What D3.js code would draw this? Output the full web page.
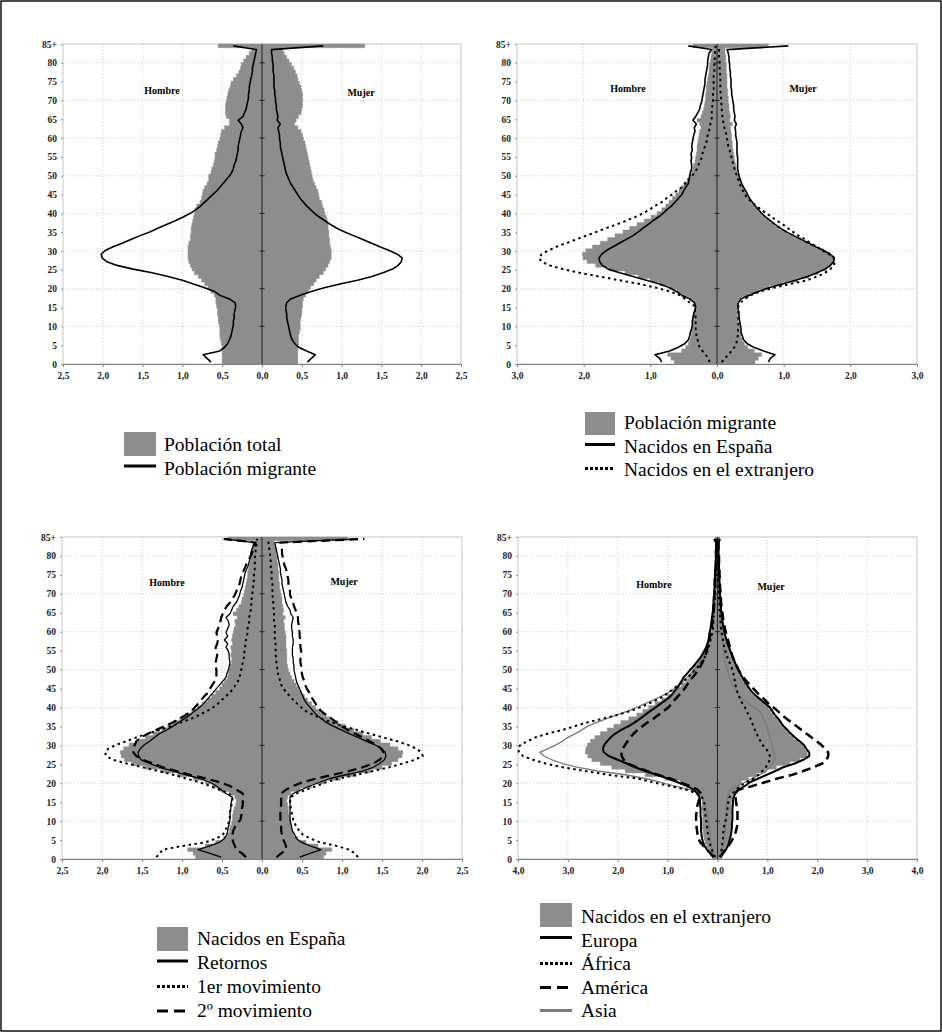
<!DOCTYPE html>
<html><head><meta charset="utf-8">
<script src="https://cdn.jsdelivr.net/npm/d3@7"></script>
<style>
body{margin:0;background:#fff;}
svg{display:block;}
svg text{font-family:"Liberation Serif","Times New Roman",Times,"DejaVu Serif",serif;}
</style>
</head><body>
<svg id="chart" width="942" height="1032"></svg>
<script>
// ---------- categories / ticks ----------
const ages = d3.range(86); // single years 0..84 and 85+
const ageTickValues = [0,5,10,15,20,25,30,35,40,45,50,55,60,65,70,75,80,85];
const ageTickLabels = ["0","5","10","15","20","25","30","35","40","45","50","55","60","65","70","75","80","85+"];
const gridAges = [10,20,30,40,50,60,70,80];
const ticks25 = [-2.5,-2,-1.5,-1,-0.5,0,0.5,1,1.5,2,2.5];
const ticks3 = [-3,-2,-1,0,1,2,3];
const ticks4 = [-4,-3,-2,-1,0,1,2,3,4];

// ---------- series (% by single year of age, 0..84, 85+) ----------
const totalM = [0.50,0.50,0.50,0.50,0.50,0.51,0.52,0.53,0.53,0.53,
 0.54,0.55,0.55,0.56,0.56,0.57,0.58,0.58,0.60,0.64,
 0.68,0.72,0.76,0.80,0.85,0.88,0.90,0.92,0.93,0.93,
 0.93,0.93,0.92,0.90,0.90,0.89,0.89,0.88,0.87,0.86,
 0.85,0.84,0.82,0.78,0.76,0.75,0.74,0.72,0.69,0.67,
 0.67,0.64,0.63,0.61,0.60,0.59,0.59,0.57,0.56,0.55,
 0.53,0.52,0.51,0.47,0.41,0.41,0.45,0.46,0.46,0.46,
 0.45,0.44,0.43,0.42,0.40,0.39,0.36,0.32,0.29,0.27,
 0.26,0.23,0.20,0.16,0.13,0.55];
const totalF = [0.45,0.45,0.45,0.45,0.45,0.46,0.46,0.46,0.47,0.48,
 0.48,0.48,0.49,0.50,0.50,0.51,0.51,0.52,0.55,0.58,
 0.61,0.65,0.68,0.72,0.77,0.80,0.83,0.85,0.87,0.87,
 0.87,0.86,0.85,0.85,0.84,0.84,0.83,0.83,0.82,0.81,
 0.79,0.78,0.76,0.75,0.72,0.71,0.70,0.68,0.66,0.64,
 0.63,0.62,0.61,0.60,0.59,0.58,0.57,0.56,0.55,0.54,
 0.52,0.51,0.49,0.45,0.41,0.43,0.46,0.49,0.50,0.51,
 0.51,0.51,0.51,0.50,0.49,0.47,0.45,0.44,0.42,0.40,
 0.37,0.34,0.31,0.28,0.26,1.29];
const migrM = [0.64,0.69,0.74,0.53,0.47,0.43,0.41,0.39,0.38,0.37,
 0.36,0.36,0.35,0.35,0.34,0.33,0.34,0.41,0.53,0.60,
 0.72,0.86,1.00,1.18,1.38,1.62,1.82,1.95,2.01,2.02,
 1.97,1.87,1.75,1.64,1.53,1.41,1.31,1.20,1.09,0.99,
 0.90,0.83,0.77,0.72,0.67,0.62,0.57,0.53,0.49,0.45,
 0.41,0.38,0.36,0.35,0.33,0.32,0.31,0.30,0.30,0.29,
 0.28,0.27,0.26,0.24,0.26,0.30,0.24,0.22,0.20,0.19,
 0.18,0.17,0.17,0.16,0.16,0.15,0.14,0.13,0.12,0.12,
 0.11,0.10,0.09,0.08,0.07,0.36];
const migrF = [0.57,0.62,0.67,0.56,0.46,0.41,0.38,0.36,0.35,0.34,
 0.33,0.32,0.31,0.31,0.30,0.30,0.31,0.36,0.48,0.62,
 0.78,0.98,1.20,1.38,1.52,1.64,1.71,1.75,1.76,1.70,
 1.60,1.48,1.37,1.26,1.15,1.04,0.94,0.86,0.79,0.72,
 0.66,0.61,0.56,0.52,0.48,0.45,0.42,0.39,0.36,0.34,
 0.32,0.30,0.29,0.28,0.27,0.26,0.25,0.24,0.23,0.23,
 0.22,0.22,0.21,0.20,0.23,0.19,0.20,0.19,0.18,0.18,
 0.17,0.17,0.16,0.16,0.15,0.15,0.15,0.15,0.14,0.14,
 0.14,0.13,0.13,0.12,0.12,0.77];
const espM = [0.83,0.86,0.93,0.71,0.58,0.48,0.43,0.41,0.40,0.38,
 0.37,0.37,0.36,0.35,0.33,0.32,0.34,0.41,0.53,0.61,
 0.71,0.86,1.06,1.26,1.46,1.63,1.72,1.76,1.77,1.73,
 1.66,1.56,1.46,1.36,1.26,1.18,1.11,1.03,0.96,0.88,
 0.81,0.75,0.68,0.63,0.58,0.53,0.50,0.47,0.43,0.42,
 0.41,0.40,0.38,0.38,0.39,0.38,0.39,0.37,0.38,0.37,
 0.36,0.35,0.33,0.34,0.31,0.36,0.32,0.29,0.26,0.25,
 0.23,0.22,0.21,0.20,0.19,0.18,0.18,0.17,0.16,0.15,
 0.14,0.14,0.13,0.12,0.08,0.43];
const espF = [0.77,0.80,0.87,0.70,0.55,0.45,0.40,0.38,0.36,0.36,
 0.35,0.34,0.33,0.33,0.32,0.31,0.32,0.36,0.48,0.62,
 0.78,0.98,1.18,1.36,1.50,1.62,1.70,1.75,1.76,1.70,
 1.60,1.48,1.37,1.26,1.15,1.04,0.95,0.87,0.80,0.73,
 0.67,0.62,0.57,0.53,0.49,0.46,0.43,0.40,0.37,0.35,
 0.33,0.32,0.31,0.31,0.31,0.31,0.30,0.30,0.30,0.30,
 0.29,0.28,0.28,0.27,0.29,0.26,0.27,0.26,0.25,0.25,
 0.24,0.23,0.22,0.22,0.21,0.21,0.21,0.20,0.20,0.19,
 0.19,0.18,0.18,0.17,0.15,1.07];
const extM = [0.11,0.13,0.17,0.22,0.26,0.28,0.29,0.31,0.31,0.32,
 0.32,0.32,0.32,0.33,0.33,0.33,0.41,0.48,0.56,0.71,
 0.91,1.16,1.46,1.76,2.06,2.31,2.51,2.63,2.67,2.63,
 2.53,2.41,2.26,2.11,1.96,1.81,1.66,1.51,1.36,1.23,
 1.11,1.01,0.93,0.83,0.76,0.68,0.61,0.53,0.48,0.43,
 0.38,0.33,0.30,0.28,0.25,0.23,0.22,0.20,0.18,0.16,
 0.15,0.14,0.12,0.11,0.10,0.08,0.08,0.08,0.07,0.07,
 0.06,0.06,0.06,0.05,0.05,0.05,0.05,0.05,0.04,0.04,
 0.04,0.04,0.03,0.03,0.03,0.02];
const extF = [0.07,0.12,0.17,0.22,0.26,0.29,0.30,0.31,0.31,0.32,
 0.32,0.32,0.32,0.32,0.32,0.32,0.35,0.42,0.51,0.65,
 0.85,1.10,1.35,1.50,1.62,1.70,1.75,1.77,1.75,1.68,
 1.58,1.50,1.40,1.32,1.22,1.14,1.06,0.99,0.90,0.82,
 0.74,0.66,0.59,0.52,0.46,0.42,0.39,0.36,0.34,0.32,
 0.30,0.28,0.26,0.25,0.23,0.22,0.20,0.19,0.17,0.16,
 0.15,0.14,0.13,0.11,0.10,0.09,0.08,0.08,0.07,0.07,
 0.06,0.06,0.06,0.05,0.05,0.05,0.05,0.05,0.04,0.04,
 0.04,0.04,0.03,0.03,0.03,0.02];
const retM = [0.51,0.65,0.80,0.65,0.53,0.47,0.44,0.43,0.42,0.41,
 0.40,0.40,0.40,0.39,0.39,0.38,0.37,0.45,0.51,0.57,
 0.65,0.78,0.95,1.11,1.28,1.40,1.51,1.54,1.55,1.52,
 1.47,1.40,1.34,1.28,1.19,1.11,1.04,0.97,0.90,0.84,
 0.78,0.73,0.69,0.65,0.61,0.57,0.53,0.49,0.45,0.44,
 0.42,0.41,0.40,0.41,0.41,0.42,0.45,0.43,0.47,0.43,
 0.45,0.43,0.41,0.42,0.45,0.40,0.38,0.36,0.32,0.30,
 0.28,0.27,0.25,0.24,0.23,0.22,0.21,0.19,0.17,0.16,
 0.15,0.14,0.13,0.11,0.10,0.47];
const retF = [0.47,0.60,0.74,0.60,0.49,0.43,0.41,0.38,0.37,0.36,
 0.35,0.35,0.35,0.35,0.35,0.35,0.35,0.39,0.49,0.60,
 0.72,0.85,1.05,1.26,1.39,1.47,1.53,1.55,1.54,1.49,
 1.41,1.30,1.20,1.09,0.99,0.89,0.80,0.74,0.68,0.64,
 0.60,0.56,0.53,0.51,0.49,0.47,0.45,0.43,0.42,0.41,
 0.40,0.40,0.39,0.39,0.38,0.38,0.38,0.39,0.39,0.38,
 0.38,0.37,0.37,0.38,0.39,0.36,0.35,0.32,0.30,0.29,
 0.28,0.27,0.26,0.25,0.25,0.24,0.23,0.23,0.22,0.21,
 0.20,0.19,0.18,0.17,0.16,1.18];
const mov1M = [1.32,1.28,1.24,0.99,0.70,0.57,0.49,0.46,0.44,0.42,
 0.41,0.40,0.40,0.39,0.38,0.37,0.37,0.42,0.53,0.65,
 0.78,0.95,1.11,1.30,1.49,1.69,1.86,1.95,1.96,1.92,
 1.82,1.69,1.57,1.42,1.28,1.13,1.01,0.88,0.78,0.69,
 0.61,0.55,0.50,0.45,0.40,0.36,0.33,0.30,0.28,0.27,
 0.26,0.25,0.24,0.23,0.22,0.22,0.21,0.21,0.20,0.19,
 0.18,0.18,0.17,0.16,0.16,0.15,0.14,0.14,0.13,0.13,
 0.12,0.12,0.11,0.11,0.10,0.10,0.10,0.09,0.09,0.09,
 0.09,0.08,0.08,0.07,0.07,0.06];
const mov1F = [1.20,1.16,1.09,0.93,0.72,0.60,0.51,0.47,0.43,0.41,
 0.39,0.38,0.37,0.36,0.36,0.35,0.36,0.43,0.55,0.68,
 0.80,0.97,1.18,1.39,1.59,1.76,1.91,2.01,1.99,1.93,
 1.82,1.68,1.51,1.34,1.18,1.01,0.87,0.74,0.64,0.55,
 0.49,0.44,0.39,0.35,0.30,0.27,0.24,0.23,0.21,0.20,
 0.19,0.19,0.18,0.18,0.17,0.17,0.17,0.17,0.16,0.16,
 0.16,0.16,0.16,0.15,0.15,0.15,0.15,0.14,0.14,0.14,
 0.13,0.13,0.13,0.13,0.12,0.12,0.12,0.11,0.11,0.11,
 0.10,0.10,0.09,0.09,0.08,0.07];
const mov2M = [0.20,0.25,0.32,0.34,0.36,0.37,0.37,0.36,0.34,0.31,
 0.27,0.26,0.25,0.25,0.24,0.24,0.24,0.24,0.32,0.40,
 0.53,0.70,0.90,1.07,1.24,1.36,1.49,1.57,1.61,1.61,
 1.59,1.57,1.51,1.42,1.32,1.22,1.11,1.03,0.95,0.88,
 0.84,0.80,0.76,0.72,0.67,0.65,0.62,0.59,0.57,0.57,
 0.57,0.58,0.58,0.57,0.56,0.57,0.58,0.56,0.55,0.56,
 0.57,0.55,0.53,0.52,0.51,0.49,0.47,0.44,0.40,0.37,
 0.34,0.32,0.30,0.28,0.27,0.26,0.24,0.22,0.20,0.18,
 0.15,0.13,0.11,0.09,0.08,0.48];
const mov2F = [0.18,0.24,0.30,0.30,0.28,0.26,0.25,0.24,0.24,0.23,
 0.23,0.23,0.23,0.23,0.24,0.24,0.24,0.24,0.30,0.39,
 0.51,0.68,0.89,1.09,1.26,1.39,1.47,1.51,1.52,1.49,
 1.43,1.34,1.26,1.16,1.07,0.99,0.93,0.87,0.80,0.74,
 0.70,0.67,0.64,0.61,0.59,0.56,0.54,0.53,0.51,0.50,
 0.49,0.49,0.48,0.48,0.49,0.49,0.48,0.48,0.48,0.47,
 0.47,0.46,0.46,0.45,0.45,0.43,0.42,0.40,0.39,0.37,
 0.35,0.35,0.34,0.33,0.33,0.32,0.31,0.30,0.28,0.27,
 0.26,0.25,0.25,0.24,0.23,1.28];
const ext4M = [0.10,0.14,0.18,0.22,0.25,0.27,0.28,0.29,0.30,0.30,
 0.30,0.30,0.30,0.31,0.31,0.31,0.33,0.38,0.52,0.62,
 0.75,1.05,1.45,1.85,2.12,2.35,2.52,2.60,2.65,2.64,
 2.61,2.55,2.46,2.35,2.21,2.08,1.94,1.78,1.62,1.50,
 1.38,1.25,1.12,1.00,0.90,0.81,0.72,0.64,0.58,0.54,
 0.51,0.46,0.40,0.35,0.30,0.25,0.22,0.19,0.16,0.14,
 0.12,0.11,0.10,0.09,0.08,0.07,0.07,0.06,0.06,0.05,
 0.05,0.05,0.04,0.04,0.04,0.04,0.03,0.03,0.03,0.03,
 0.03,0.03,0.02,0.02,0.02,0.05];
const ext4F = [0.08,0.12,0.16,0.20,0.23,0.25,0.26,0.27,0.28,0.28,
 0.28,0.28,0.28,0.28,0.28,0.28,0.29,0.32,0.40,0.45,
 0.48,0.62,0.78,0.97,1.18,1.45,1.65,1.80,1.80,1.76,
 1.72,1.62,1.52,1.45,1.38,1.30,1.25,1.20,1.12,1.07,
 1.02,0.94,0.85,0.76,0.68,0.62,0.57,0.52,0.48,0.45,
 0.42,0.38,0.35,0.32,0.29,0.26,0.23,0.20,0.18,0.16,
 0.14,0.12,0.11,0.10,0.09,0.08,0.07,0.06,0.06,0.05,
 0.05,0.05,0.04,0.04,0.04,0.04,0.03,0.03,0.03,0.03,
 0.03,0.03,0.02,0.02,0.02,0.05];
const eurM = [0.08,0.14,0.21,0.26,0.29,0.31,0.32,0.33,0.33,0.33,
 0.33,0.34,0.34,0.34,0.35,0.35,0.36,0.40,0.48,0.61,
 0.80,1.00,1.22,1.45,1.65,1.82,2.00,2.18,2.28,2.30,
 2.27,2.21,2.14,2.05,1.93,1.78,1.66,1.55,1.45,1.35,
 1.24,1.14,1.03,0.94,0.88,0.82,0.77,0.72,0.68,0.61,
 0.55,0.48,0.42,0.36,0.31,0.27,0.23,0.20,0.18,0.17,
 0.16,0.14,0.13,0.12,0.11,0.10,0.09,0.09,0.08,0.08,
 0.07,0.07,0.06,0.06,0.06,0.05,0.05,0.04,0.04,0.04,
 0.03,0.03,0.03,0.03,0.03,0.07];
const eurF = [0.07,0.11,0.17,0.21,0.23,0.25,0.27,0.28,0.29,0.29,
 0.30,0.30,0.30,0.30,0.31,0.31,0.32,0.36,0.42,0.55,
 0.65,0.82,0.99,1.16,1.32,1.55,1.72,1.84,1.84,1.78,
 1.73,1.64,1.55,1.47,1.40,1.32,1.27,1.22,1.15,1.10,
 1.05,0.96,0.87,0.78,0.70,0.64,0.59,0.54,0.50,0.46,
 0.42,0.38,0.35,0.32,0.29,0.26,0.23,0.20,0.18,0.16,
 0.14,0.12,0.11,0.10,0.09,0.08,0.07,0.07,0.06,0.06,
 0.05,0.05,0.04,0.04,0.04,0.04,0.03,0.03,0.03,0.03,
 0.02,0.02,0.02,0.02,0.02,0.05];
const afrM = [0.05,0.08,0.11,0.14,0.16,0.18,0.19,0.20,0.21,0.21,
 0.23,0.24,0.25,0.26,0.26,0.27,0.31,0.42,0.62,0.95,
 1.30,1.60,2.20,2.65,3.10,3.45,3.70,3.90,3.98,4.00,
 3.95,3.80,3.65,3.40,3.10,2.85,2.60,2.30,2.00,1.75,
 1.55,1.38,1.22,1.08,0.97,0.88,0.78,0.68,0.60,0.52,
 0.45,0.38,0.32,0.27,0.23,0.20,0.18,0.16,0.14,0.12,
 0.10,0.09,0.09,0.08,0.08,0.07,0.07,0.06,0.06,0.06,
 0.05,0.05,0.04,0.04,0.04,0.03,0.03,0.03,0.03,0.02,
 0.02,0.02,0.02,0.02,0.02,0.01];
const afrF = [0.05,0.07,0.08,0.09,0.10,0.11,0.11,0.12,0.13,0.14,
 0.17,0.18,0.19,0.20,0.21,0.22,0.24,0.30,0.38,0.45,
 0.58,0.72,0.82,0.90,0.97,1.01,1.05,1.05,1.02,0.97,
 0.90,0.86,0.82,0.78,0.75,0.72,0.69,0.66,0.62,0.59,
 0.55,0.50,0.46,0.43,0.40,0.38,0.36,0.35,0.33,0.32,
 0.30,0.27,0.24,0.21,0.18,0.16,0.14,0.12,0.11,0.10,
 0.08,0.07,0.06,0.06,0.05,0.05,0.04,0.04,0.04,0.03,
 0.03,0.03,0.03,0.03,0.02,0.02,0.02,0.02,0.02,0.02,
 0.02,0.02,0.01,0.01,0.01,0.01];
const amerM = [0.08,0.14,0.21,0.28,0.35,0.38,0.40,0.41,0.42,0.42,
 0.43,0.43,0.42,0.41,0.40,0.38,0.35,0.33,0.40,0.55,
 0.75,0.95,1.20,1.42,1.62,1.80,1.88,1.92,1.93,1.90,
 1.85,1.80,1.75,1.68,1.60,1.50,1.40,1.28,1.18,1.08,
 0.98,0.92,0.86,0.79,0.72,0.66,0.61,0.56,0.50,0.44,
 0.39,0.34,0.30,0.27,0.24,0.22,0.20,0.18,0.16,0.15,
 0.14,0.12,0.11,0.10,0.09,0.09,0.08,0.07,0.07,0.06,
 0.06,0.06,0.05,0.05,0.05,0.04,0.04,0.04,0.03,0.03,
 0.03,0.03,0.03,0.02,0.02,0.02];
const amerF = [0.05,0.10,0.16,0.22,0.27,0.31,0.35,0.37,0.39,0.40,
 0.40,0.40,0.40,0.39,0.38,0.37,0.36,0.35,0.42,0.70,
 0.95,1.20,1.50,1.72,1.92,2.10,2.19,2.22,2.22,2.15,
 2.08,1.98,1.88,1.78,1.68,1.58,1.48,1.38,1.29,1.21,
 1.12,1.02,0.95,0.87,0.79,0.72,0.65,0.58,0.52,0.47,
 0.42,0.39,0.35,0.32,0.29,0.27,0.25,0.23,0.21,0.19,
 0.17,0.15,0.13,0.12,0.11,0.10,0.09,0.08,0.07,0.07,
 0.06,0.06,0.05,0.05,0.05,0.04,0.04,0.04,0.03,0.03,
 0.03,0.03,0.02,0.02,0.02,0.02];
const asiaM = [0.08,0.09,0.11,0.12,0.13,0.15,0.15,0.16,0.16,0.17,
 0.18,0.19,0.21,0.23,0.25,0.28,0.31,0.36,0.55,0.88,
 1.15,1.45,1.85,2.40,2.80,3.10,3.32,3.48,3.56,3.40,
 3.24,3.10,3.00,2.85,2.72,2.60,2.42,2.22,2.02,1.80,
 1.62,1.45,1.28,1.12,0.98,0.86,0.76,0.68,0.61,0.54,
 0.47,0.41,0.36,0.31,0.28,0.25,0.22,0.20,0.18,0.16,
 0.15,0.13,0.12,0.11,0.10,0.09,0.08,0.08,0.07,0.06,
 0.05,0.05,0.05,0.04,0.04,0.03,0.03,0.03,0.03,0.02,
 0.02,0.02,0.02,0.02,0.02,0.01];
const asiaF = [0.08,0.09,0.10,0.11,0.12,0.13,0.14,0.15,0.16,0.16,
 0.16,0.17,0.17,0.18,0.18,0.19,0.20,0.22,0.25,0.39,
 0.55,0.70,0.85,0.97,1.05,1.10,1.14,1.15,1.13,1.11,
 1.09,1.07,1.05,1.03,1.01,0.99,0.96,0.92,0.88,0.84,
 0.72,0.62,0.53,0.45,0.39,0.34,0.30,0.27,0.24,0.22,
 0.20,0.18,0.16,0.15,0.14,0.12,0.11,0.10,0.09,0.08,
 0.07,0.06,0.06,0.05,0.05,0.04,0.04,0.04,0.03,0.03,
 0.03,0.03,0.03,0.02,0.02,0.02,0.02,0.02,0.02,0.02,
 0.02,0.02,0.01,0.01,0.01,0.01];

// ---------- drawing ----------
const svg = d3.select("#chart");
const FILL = "#8d8d8d";
const fmtX = d => d3.format(".1f")(Math.abs(d)).replace(".", ",");

svg.append("rect").attr("x",1).attr("y",1).attr("width",940).attr("height",1030)
  .attr("fill","#fff").attr("stroke","#000").attr("stroke-width",1.4);

const S = {
  solid:  {stroke:"#000", width:1.6, dash:null},
  solidT: {stroke:"#000", width:1.3, dash:null},
  solidB: {stroke:"#000", width:2.0, dash:null},
  dotted: {stroke:"#000", width:2.0, dash:"2.5,3.5"},
  dashed: {stroke:"#000", width:2.2, dash:"9,5"},
  gray:   {stroke:"#7a7a7a", width:1.3, dash:null}
};
const LS = {
  solid:  {stroke:"#000", width:3, dash:null},
  dotted: {stroke:"#000", width:3, dash:"3,2"},
  dashed: {stroke:"#000", width:3, dash:"11,6"},
  gray:   {stroke:"#7a7a7a", width:3, dash:null}
};

const panels = [
 {left:63, right:461, top:44, bottom:364, xmax:2.5, xTicks:ticks25,
  fillM:totalM, fillF:totalF,
  lines:[{M:migrM, F:migrF, s:S.solid}],
  hombre:[162,94], mujer:[361,96],
  legend:{symX:124, symW:32, textX:164, rect:{y:432, h:24, base:451, label:"Población total"},
    items:[{label:"Población migrante", base:474.5, ly:466, s:LS.solid}]}},
 {left:517, right:917, top:44, bottom:364, xmax:3, xTicks:ticks3,
  fillM:migrM, fillF:migrF,
  lines:[{M:espM, F:espF, s:S.solid},{M:extM, F:extF, s:S.dotted}],
  hombre:[628,92], mujer:[803,92],
  legend:{symX:585, symW:30, textX:624, rect:{y:412, h:23, base:429, label:"Población migrante"},
    items:[{label:"Nacidos en España", base:452.5, ly:444.5, s:LS.solid},
           {label:"Nacidos en el extranjero", base:476, ly:468.5, s:LS.dotted}]}},
 {left:62, right:462, top:537, bottom:859, xmax:2.5, xTicks:ticks25,
  fillM:espM, fillF:espF,
  lines:[{M:retM, F:retF, s:S.solidT},{M:mov1M, F:mov1F, s:S.dotted},{M:mov2M, F:mov2F, s:S.dashed}],
  hombre:[167,585.5], mujer:[344,585],
  legend:{symX:157, symW:31, textX:197, rect:{y:927, h:24, base:945, label:"Nacidos en España"},
    items:[{label:"Retornos", base:969, ly:961, s:LS.solid},
           {label:"1er movimiento", base:993, ly:986.5, s:LS.dotted},
           {label:"2º movimiento", base:1017, ly:1011, s:LS.dashed}]}},
 {left:518, right:917, top:537, bottom:859, xmax:4, xTicks:ticks4,
  fillM:ext4M, fillF:ext4F,
  lines:[{M:asiaM, F:asiaF, s:S.gray},{M:eurM, F:eurF, s:S.solidB},{M:afrM, F:afrF, s:S.dotted},{M:amerM, F:amerF, s:{stroke:"#000", width:2.5, dash:"9,5"}}],
  hombre:[654,587.5], mujer:[771,590],
  legend:{symX:540, symW:32, textX:581, rect:{y:903, h:24, base:923, label:"Nacidos en el extranjero"},
    items:[{label:"Europa", base:946.5, ly:937.5, s:LS.solid},
           {label:"África", base:970, ly:963.5, s:LS.dotted},
           {label:"América", base:993.5, ly:987.5, s:LS.dashed},
           {label:"Asia", base:1017, ly:1010.5, s:LS.gray}]}}
];

function drawPanel(p) {
  const g = svg.append("g");
  const x = d3.scaleLinear().domain([-p.xmax, p.xmax]).range([p.left, p.right]);
  const y = d3.scaleLinear().domain([0, 85]).range([p.bottom, p.top]);
  const band = d3.scaleBand().domain(ages).range([p.bottom, p.top]).padding(0);
  const bw = band.bandwidth();
  const x0 = x(0);

  g.append("rect").attr("x",p.left).attr("y",p.top).attr("width",p.right-p.left).attr("height",p.bottom-p.top)
    .attr("fill","none").attr("stroke","#c6c6c6").attr("stroke-width",1);
  g.selectAll(".vg").data(p.xTicks.filter(t => t !== 0 && Math.abs(t) !== p.xmax)).enter().append("line")
    .attr("x1", d => x(d)).attr("x2", d => x(d)).attr("y1", p.top).attr("y2", p.bottom)
    .attr("stroke","#bdbdbd").attr("stroke-width",0.8).attr("stroke-dasharray","1,2");
  g.selectAll(".hg").data(gridAges).enter().append("line")
    .attr("x1", p.left).attr("x2", p.right).attr("y1", d => y(d)).attr("y2", d => y(d))
    .attr("stroke","#bdbdbd").attr("stroke-width",0.8).attr("stroke-dasharray","1,2");

  const line = d3.line();
  function stepPoly(vals, sign) {
    const pts = [[x0, p.bottom]];
    ages.forEach(i => {
      const xv = x(sign * vals[i]);
      pts.push([xv, band(i) + bw]);
      pts.push([xv, band(i)]);
    });
    pts.push([x0, p.top]);
    return line(pts) + "Z";
  }
  g.append("path").attr("d", stepPoly(p.fillM, -1)).attr("fill", FILL).attr("stroke", FILL).attr("stroke-width", 0.4);
  g.append("path").attr("d", stepPoly(p.fillF, 1)).attr("fill", FILL).attr("stroke", FILL).attr("stroke-width", 0.4);

  g.append("line").attr("x1",x0).attr("x2",x0).attr("y1",p.top).attr("y2",p.bottom)
    .attr("stroke","#222").attr("stroke-width",1);
  g.selectAll(".ct").data(gridAges).enter().append("line")
    .attr("x1",x0-2.5).attr("x2",x0+2.5).attr("y1",d=>y(d)).attr("y2",d=>y(d))
    .attr("stroke","#222").attr("stroke-width",1);

  const lg = d3.line().x(d => d[0]).y(d => d[1]);
  p.lines.forEach(L => {
    [[L.M,-1],[L.F,1]].forEach(([vals, sign]) => {
      const pts = ages.map(i => [x(sign * vals[i]), band(i) + bw/2]);
      g.append("path").attr("d", lg(pts)).attr("fill","none")
        .attr("stroke", L.s.stroke).attr("stroke-width", L.s.width)
        .attr("stroke-dasharray", L.s.dash).attr("stroke-linejoin","round");
    });
  });

  const xa = g.append("g").attr("transform", `translate(0,${p.bottom})`)
    .call(d3.axisBottom(x).tickValues(p.xTicks).tickFormat(fmtX).tickSizeInner(3).tickSizeOuter(0).tickPadding(5));
  xa.select(".domain").attr("stroke","#808080");
  xa.selectAll(".tick line").attr("stroke","#808080");
  xa.selectAll("text").style("font-size","9.5px").style("font-weight","bold").attr("fill","#222");
  const ya = g.append("g").attr("transform", `translate(${p.left},0)`)
    .call(d3.axisLeft(y).tickValues(ageTickValues).tickFormat((d,i) => ageTickLabels[i]).tickSizeInner(2).tickSizeOuter(0).tickPadding(4));
  ya.select(".domain").remove();
  ya.selectAll(".tick line").attr("stroke","#999");
  ya.selectAll("text").style("font-size","9.5px").style("font-weight","bold").attr("fill","#222");

  g.append("text").attr("x",p.hombre[0]).attr("y",p.hombre[1]).attr("text-anchor","middle")
    .style("font-weight","bold").style("font-size","10px").text("Hombre");
  g.append("text").attr("x",p.mujer[0]).attr("y",p.mujer[1]).attr("text-anchor","middle")
    .style("font-weight","bold").style("font-size","10px").text("Mujer");

  const L = p.legend;
  g.append("rect").attr("x",L.symX).attr("y",L.rect.y).attr("width",L.symW).attr("height",L.rect.h).attr("fill",FILL);
  g.append("text").attr("x",L.textX).attr("y",L.rect.base).style("font-size","19.5px").text(L.rect.label);
  L.items.forEach(it => {
    g.append("line").attr("x1",L.symX).attr("x2",L.symX+L.symW).attr("y1",it.ly).attr("y2",it.ly)
      .attr("stroke",it.s.stroke).attr("stroke-width",it.s.width).attr("stroke-dasharray",it.s.dash);
    g.append("text").attr("x",L.textX).attr("y",it.base).style("font-size","19.5px").text(it.label);
  });
}
panels.forEach(drawPanel);
</script>
</body></html>
